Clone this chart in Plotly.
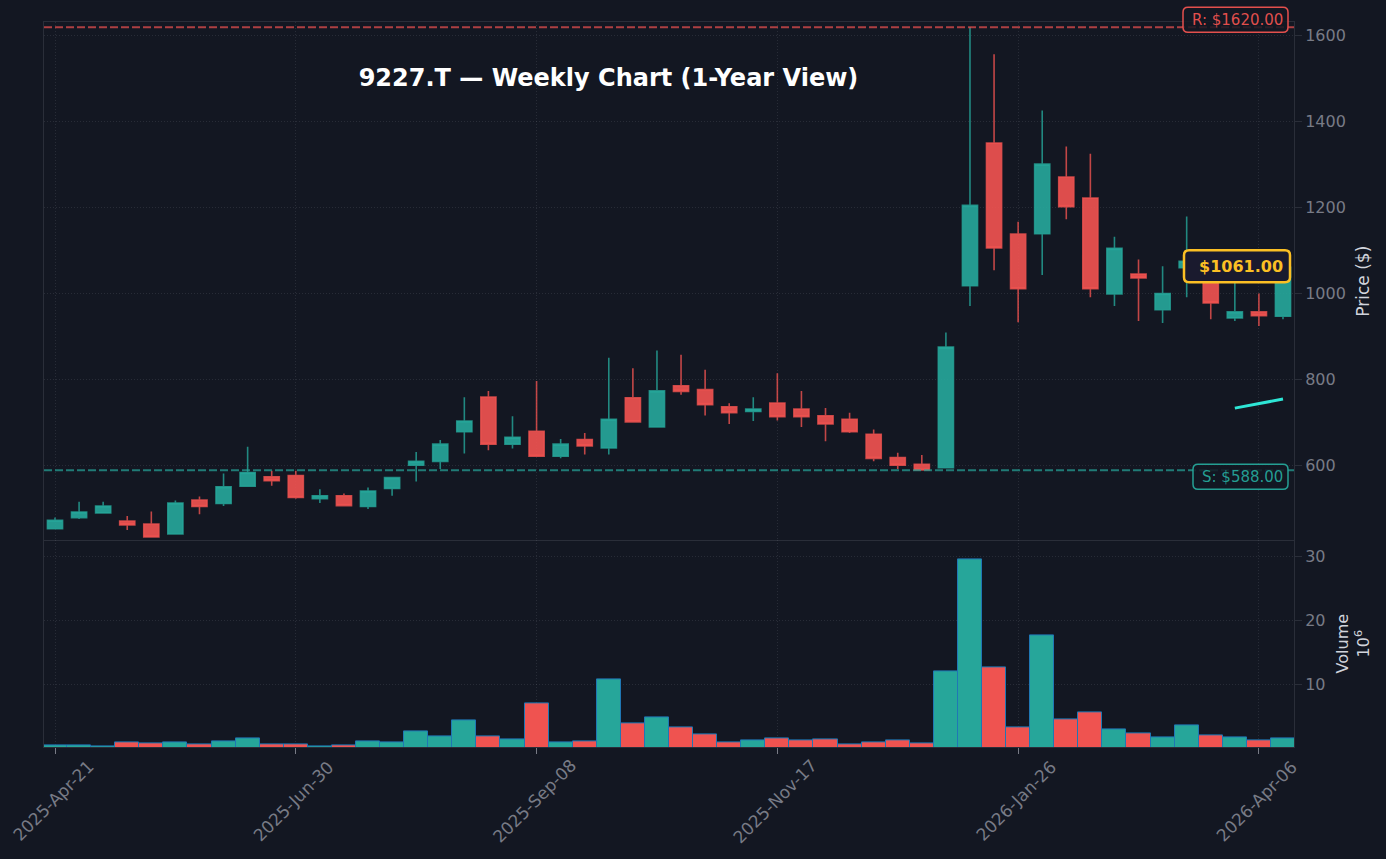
import pandas as pd
import plotly.graph_objects as go

ticker_title = "9227.T — Weekly Chart (1-Year View)"
weeks = pd.date_range("2025-04-21", periods=52, freq="7D")
tick_weeks = weeks[::10]
tick_labels = [d.strftime("%Y-%b-%d") for d in tick_weeks]

opens = [452, 478, 489, 470, 463, 440, 519, 511, 551, 573, 576, 522, 529, 504, 546, 600, 609, 678,
         759, 649, 679, 621, 660, 640, 757, 689, 785, 776, 736, 725, 745, 731, 715, 707, 672, 618, 602, 594,
         1018, 1350, 1138, 1139, 1271, 1222, 999, 1045, 962, 1060, 1070, 943, 957, 947]
highs = [478, 515, 515, 482, 492, 518, 527, 581, 643, 587, 587, 544, 534, 548, 572, 631, 659, 758,
         773, 714, 796, 661, 675, 850, 826, 867, 857, 822, 744, 758, 814, 773, 733, 722, 683, 629, 624, 909,
         1620, 1557, 1167, 1426, 1342, 1325, 1132, 1079, 1063, 1179, 1085, 1060, 1000, 1061]
lows = [451, 475, 489, 449, 433, 440, 486, 505, 551, 552, 522, 512, 506, 498, 529, 562, 591, 627,
        635, 639, 621, 616, 625, 625, 701, 689, 764, 716, 696, 703, 704, 689, 656, 675, 609, 591, 589, 594,
        971, 1054, 933, 1043, 1173, 991, 971, 936, 931, 991, 940, 936, 924, 940]
closes = [472, 491, 505, 461, 433, 512, 504, 550, 583, 564, 525, 529, 506, 540, 571, 609, 649, 703,
          649, 665, 621, 649, 645, 707, 701, 773, 772, 741, 722, 731, 713, 713, 696, 678, 616, 600, 589, 875,
          1205, 1106, 1011, 1301, 1202, 1011, 1105, 1036, 1000, 1075, 978, 957, 948, 1061]
volume_m = [0.47, 0.47, 0.31, 0.94, 0.78, 0.94, 0.63, 1.09, 1.56, 0.63, 0.63, 0.31, 0.47, 1.09, 0.94, 2.66, 1.88, 4.4,
            1.88, 1.4, 7.03, 0.94, 1.09, 10.8, 3.9, 4.84, 3.28, 2.19, 0.94, 1.25, 1.56, 1.25, 1.4, 0.63, 0.94, 1.25, 0.78, 11.97,
            29.5, 12.6, 3.2, 17.6, 4.47, 5.56, 2.9, 2.28, 1.66, 3.6, 1.97, 1.66, 1.19, 1.5]
trend_values = [733, 743, 754]
resistance = 1620
support = 588
last_close = 1061

UP = "#26a69a"
DOWN = "#ef5350"
BG = "#131722"
GRID = "rgba(120,123,134,0.22)"
AXIS = "#2a2e39"
TICK = "#787b86"
FONT = "DejaVu Sans"

PRICE_RANGE = [425, 1632]
PRICE_DOMAIN = [0.285, 1]

half_week = pd.Timedelta(days=3.2)
x_range = [weeks[0] - half_week, weeks[-1] + half_week]
bar_colors = [UP if c >= o else DOWN for o, c in zip(opens, closes)]


def rounded_box(left, right, top, bottom, r=5):
    # pixel offsets from the anchor, y is up
    return (
        f"M{left + r},{top} L{right - r},{top} Q{right},{top} {right},{top - r} "
        f"L{right},{bottom + r} Q{right},{bottom} {right - r},{bottom} "
        f"L{left + r},{bottom} Q{left},{bottom} {left},{bottom + r} "
        f"L{left},{top - r} Q{left},{top} {left + r},{top} Z"
    )


def price_to_paper(price):
    frac = (price - PRICE_RANGE[0]) / (PRICE_RANGE[1] - PRICE_RANGE[0])
    return PRICE_DOMAIN[0] + frac * (PRICE_DOMAIN[1] - PRICE_DOMAIN[0])


def price_label(fig, price, text, color, fill, top, bottom, left, right, lw=1.5, size=15, bold=False):
    # paper refs so the box is not clipped at the plot edge
    fig.add_shape(
        type="path",
        xref="paper", yref="paper",
        xsizemode="pixel", ysizemode="pixel",
        xanchor=1, yanchor=price_to_paper(price),
        path=rounded_box(left, right, top, bottom),
        line=dict(color=color, width=lw),
        fillcolor=fill,
    )
    fig.add_annotation(
        xref="paper", yref="paper", x=1, y=price_to_paper(price),
        xanchor="right", yanchor="middle",
        xshift=-9, yshift=(top + bottom) / 2,
        text=f"<b>{text}</b>" if bold else text,
        showarrow=False,
        font=dict(family=FONT, size=size, color=color),
    )


fig = go.Figure()

fig.add_trace(go.Candlestick(
    x=weeks, open=opens, high=highs, low=lows, close=closes,
    xaxis="x", yaxis="y",
    increasing=dict(line=dict(color="rgba(38,166,154,0.8)", width=1.6), fillcolor="rgba(38,166,154,0.92)"),
    decreasing=dict(line=dict(color="rgba(239,83,80,0.8)", width=1.6), fillcolor="rgba(239,83,80,0.92)"),
    showlegend=False,
))
fig.add_trace(go.Scatter(
    x=weeks[-3:], y=trend_values, mode="lines",
    xaxis="x", yaxis="y",
    line=dict(color="#2ee6d6", width=3),
    showlegend=False,
))
fig.add_trace(go.Bar(
    x=weeks, y=volume_m,
    xaxis="x2", yaxis="y2",
    marker=dict(color=bar_colors, line=dict(color="#1f77b4", width=1)),
    showlegend=False,
))

fig.add_shape(type="line", xref="paper", yref="y", x0=0, x1=1, y0=resistance, y1=resistance,
              line=dict(color="rgba(239,83,80,0.7)", width=2, dash="8px,3px"))
fig.add_shape(type="line", xref="paper", yref="y", x0=0, x1=1, y0=support, y1=support,
              line=dict(color="rgba(38,166,154,0.7)", width=2, dash="8px,3px"))

price_label(fig, resistance, f"R: ${resistance:.2f}", "rgba(239,83,80,0.95)", "rgba(19,23,34,0.85)",
            20, -5, -111, -6)
price_label(fig, support, f"S: ${support:.2f}", "rgba(38,166,154,0.95)", "rgba(19,23,34,0.85)",
            6, -19, -101, -6)
price_label(fig, last_close, f"${last_close:.2f}", "#fbbf24", "#1a1a2e",
            17, -15, -110, -4, lw=2.5, size=16, bold=True)

# rotated about their centre, which the axis labels can't do
for d, label in zip(tick_weeks, tick_labels):
    fig.add_annotation(
        xref="x2", yref="paper", x=d, y=-54 / 725,
        xanchor="center", yanchor="middle", xshift=-2,
        text=label, textangle=-45, showarrow=False,
        font=dict(family=FONT, size=17, color=TICK),
    )

common_x = dict(
    type="date", range=x_range,
    tick0=weeks[0], dtick=7 * 10 * 86400000,
    showticklabels=False,
    showgrid=True, gridcolor=GRID, griddash="1px,2px", gridwidth=1,
    showline=True, linecolor=AXIS, linewidth=1,
    zeroline=False,
)
common_y = dict(
    side="right",
    showgrid=True, gridcolor=GRID, griddash="1px,2px", gridwidth=1,
    showline=True, mirror=True, linecolor=AXIS, linewidth=1,
    zeroline=False,
    ticks="outside", ticklen=7, tickcolor=AXIS,
    tickfont=dict(family=FONT, size=16, color=TICK),
)

fig.update_layout(
    width=1386,
    height=859,
    paper_bgcolor=BG,
    plot_bgcolor=BG,
    font=dict(family=FONT),
    bargap=0,
    boxgap=0.3,
    boxgroupgap=0.1,
    margin=dict(l=44, r=92, t=22, b=112, autoexpand=False),
    title=dict(
        text=f"<b>{ticker_title}</b>",
        x=608.5 / 1386, xanchor="center", xref="container",
        y=1 - 78 / 859, yanchor="middle",
        font=dict(family=FONT, size=24, color="white"),
    ),
    xaxis=dict(domain=[0, 1], anchor="y", ticks="", mirror=True, rangeslider=dict(visible=False), **common_x),
    xaxis2=dict(domain=[0, 1], anchor="y2", matches="x", ticks="outside", ticklen=6, tickcolor=TICK, **common_x),
    yaxis=dict(
        domain=PRICE_DOMAIN, anchor="x", range=PRICE_RANGE, dtick=200,
        title=dict(text="Price ($)", font=dict(family=FONT, size=17, color="#d1d4dc"), standoff=12),
        **common_y,
    ),
    yaxis2=dict(
        domain=[0, PRICE_DOMAIN[0]], anchor="x2", range=[0.16, 32.5], dtick=10,
        title=dict(text="Volume<br>10<sup>6</sup>", font=dict(family=FONT, size=16, color="#d1d4dc"), standoff=12),
        **common_y,
    ),
)

fig.write_html(
    "out.html",
    config={"displayModeBar": False},
    post_script="document.body.style.margin='0';document.body.style.background='#131722';",
)
